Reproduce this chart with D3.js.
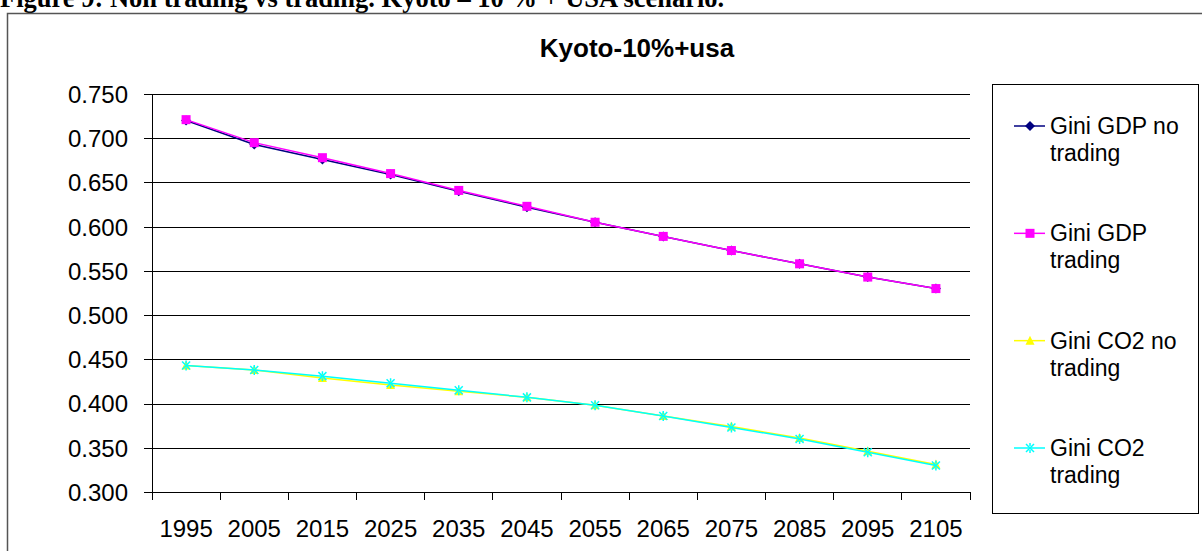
<!DOCTYPE html>
<html lang="en">
<head>
    <meta charset="UTF-8">
    <title>Kyoto-10%+usa</title>
    <script src="https://d3js.org/d3.v7.min.js"></script>
    <style>
        body {
            margin: 0;
            background: #fff;
        }
        svg text {
            font-family: Arial, "Liberation Sans", sans-serif;
            fill: #000;
        }
        .heading {
            font-family: "Times New Roman", "Liberation Serif", serif !important;
            font-weight: bold;
            font-size: 26.5px;
        }
        .title {
            font-weight: bold;
            font-size: 26px;
        }
        .axis text {
            font-size: 24px;
        }
        .axis path {
            display: none;
        }
        .legend text {
            font-size: 23px;
        }
    </style>
</head>
<body>
    <svg id="chart" width="1202" height="551"></svg>
    <script>
        // values
        const years = ["1995", "2005", "2015", "2025", "2035", "2045", "2055", "2065", "2075", "2085", "2095", "2105"];
        const yTicks = [0.300, 0.350, 0.400, 0.450, 0.500, 0.550, 0.600, 0.650, 0.700, 0.750];

        const giniGdpNoTrading = [0.720, 0.693, 0.676, 0.659, 0.640, 0.622, 0.605, 0.589, 0.573, 0.558, 0.543, 0.530];
        const giniGdpTrading   = [0.721, 0.695, 0.678, 0.660, 0.641, 0.623, 0.605, 0.589, 0.573, 0.558, 0.543, 0.530];
        const giniCo2NoTrading = [0.443, 0.438, 0.429, 0.421, 0.414, 0.407, 0.398, 0.386, 0.374, 0.361, 0.346, 0.331];
        const giniCo2Trading   = [0.443, 0.438, 0.431, 0.423, 0.415, 0.407, 0.398, 0.386, 0.373, 0.360, 0.345, 0.330];

        const series = [
            {name: ["Gini GDP no", "trading"], values: giniGdpNoTrading, color: "#000080", marker: "diamond"},
            {name: ["Gini GDP", "trading"], values: giniGdpTrading, color: "#ff00ff", marker: "square"},
            {name: ["Gini CO2 no", "trading"], values: giniCo2NoTrading, color: "#ffff00", marker: "triangle"},
            {name: ["Gini CO2", "trading"], values: giniCo2Trading, color: "#00ffff", marker: "cross"}
        ];

        const svg = d3.select("#chart");

        // page heading (cut off at the top like the scan)
        svg.append("text")
            .attr("class", "heading")
            .attr("x", 0)
            .attr("y", 7)
            .text("Figure 9: Non trading vs trading. Kyoto \u2013 10 % + USA scenario.");

        // chart area border, runs off right and bottom
        svg.append("rect")
            .attr("x", 7.5)
            .attr("y", 13.5)
            .attr("width", 1300)
            .attr("height", 600)
            .attr("fill", "none")
            .attr("stroke", "#555")
            .attr("stroke-width", 1.5);

        svg.append("text")
            .attr("class", "title")
            .attr("x", 637)
            .attr("y", 57)
            .attr("text-anchor", "middle")
            .text("Kyoto-10%+usa");

        const plotLeft = 152, plotRight = 970, plotTop = 94, plotBottom = 492;

        const x = d3.scaleBand()
            .domain(years)
            .range([plotLeft, plotRight])
            .padding(0);

        const y = d3.scaleLinear()
            .domain([0.3, 0.75])
            .range([plotBottom, plotTop]);

        // gridlines
        svg.append("g")
            .attr("transform", `translate(${plotLeft},0)`)
            .call(d3.axisLeft(y).tickValues(yTicks).tickSize(-(plotRight - plotLeft)).tickFormat(""))
            .call(g => g.select(".domain").remove())
            .selectAll("line")
            .attr("stroke", "#000")
            .attr("shape-rendering", "crispEdges");

        // y axis
        const yAxis = svg.append("g")
            .attr("class", "axis")
            .attr("transform", `translate(${plotLeft},0)`)
            .call(d3.axisLeft(y).tickValues(yTicks).tickSize(8).tickPadding(16).tickFormat(d3.format(".3f")));
        yAxis.selectAll("line").attr("stroke", "#000").attr("shape-rendering", "crispEdges");
        yAxis.selectAll("text").attr("dy", "0.35em");

        svg.append("line")
            .attr("x1", plotLeft).attr("x2", plotLeft)
            .attr("y1", plotTop).attr("y2", plotBottom)
            .attr("stroke", "#000")
            .attr("shape-rendering", "crispEdges");

        // x axis: labels centred in bands, ticks on band edges
        const xAxis = svg.append("g")
            .attr("class", "axis")
            .attr("transform", `translate(0,${plotBottom})`)
            .call(d3.axisBottom(x).tickSize(0).tickPadding(37));
        xAxis.selectAll("text").attr("dy", "0.35em");

        svg.append("line")
            .attr("x1", plotLeft).attr("x2", plotRight)
            .attr("y1", plotBottom).attr("y2", plotBottom)
            .attr("stroke", "#000")
            .attr("shape-rendering", "crispEdges");

        const edges = years.map(d => x(d)).concat([x(years[years.length - 1]) + x.bandwidth()]);
        svg.append("g")
            .selectAll("line")
            .data(edges)
            .join("line")
            .attr("x1", d => d).attr("x2", d => d)
            .attr("y1", plotBottom).attr("y2", plotBottom + 8)
            .attr("stroke", "#000")
            .attr("shape-rendering", "crispEdges");

        function drawMarker(g, type, color) {
            if (type === "diamond") {
                g.append("path").attr("d", "M0,-5L5,0L0,5L-5,0Z").attr("fill", color);
            } else if (type === "square") {
                g.append("rect").attr("x", -4.5).attr("y", -4.5).attr("width", 9).attr("height", 9).attr("fill", color);
            } else if (type === "triangle") {
                g.append("path").attr("d", "M0,-5L4.5,4L-4.5,4Z").attr("fill", color);
            } else {
                g.append("path")
                    .attr("d", "M-4,-4L4,4M-4,4L4,-4M0,-5L0,-2M0,2L0,5")
                    .attr("stroke", color)
                    .attr("stroke-width", 1.5)
                    .attr("fill", "none");
            }
        }

        const line = d3.line()
            .x((d, i) => x(years[i]) + x.bandwidth() / 2)
            .y(d => y(d));

        series.forEach(s => {
            svg.append("path")
                .datum(s.values)
                .attr("d", line)
                .attr("fill", "none")
                .attr("stroke", s.color)
                .attr("stroke-width", 1.5);

            svg.append("g")
                .selectAll("g")
                .data(s.values)
                .join("g")
                .attr("transform", (d, i) => `translate(${x(years[i]) + x.bandwidth() / 2},${y(d)})`)
                .each(function () { drawMarker(d3.select(this), s.marker, s.color); });
        });

        // legend
        const legend = svg.append("g").attr("class", "legend");
        legend.append("rect")
            .attr("x", 992.5).attr("y", 84.5)
            .attr("width", 206).attr("height", 429)
            .attr("fill", "#fff")
            .attr("stroke", "#000");

        const legendY = d3.scalePoint()
            .domain(series.map((s, i) => i))
            .range([126, 448]);

        series.forEach((s, i) => {
            const g = legend.append("g").attr("transform", `translate(0,${legendY(i)})`);
            g.append("line")
                .attr("x1", 1014).attr("x2", 1045)
                .attr("stroke", s.color)
                .attr("stroke-width", 1.5);
            const m = g.append("g").attr("transform", "translate(1030,0)");
            drawMarker(m, s.marker, s.color);
            g.append("text")
                .attr("x", 1050)
                .attr("y", 0)
                .attr("dy", "0.35em")
                .text(s.name[0]);
            g.append("text")
                .attr("x", 1050)
                .attr("y", 27)
                .attr("dy", "0.35em")
                .text(s.name[1]);
        });
    </script>
</body>
</html>
